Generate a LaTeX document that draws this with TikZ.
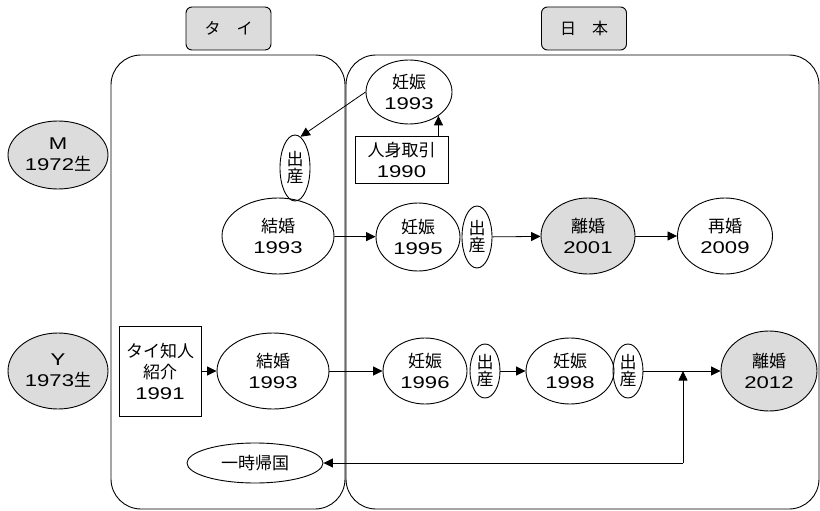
\documentclass[tikz,border=0pt]{standalone}
\usepackage{fontspec}
\setmainfont[FakeStretch=1.3]{Liberation Sans}
\newfontfamily\jp{Noto Sans CJK JP}
\usetikzlibrary{shapes.geometric,arrows.meta}
\definecolor{shade}{HTML}{DCDCDC}
\begin{document}
\begin{tikzpicture}[x=1pt,y=-1pt,
  every node/.style={font=\fontsize{17}{21}\selectfont, align=center, inner sep=0pt},
  ev/.style={draw, ellipse, line width=0.9pt},
  gev/.style={ev, fill=shade},
  bx/.style={draw, rectangle, line width=0.9pt},
  hdr/.style={draw, rectangle, rounded corners=6pt, fill=shade, line width=0.9pt, minimum width=85pt, minimum height=43pt, font=\fontsize{16}{18}\selectfont\jp},
  region/.style={draw, rounded corners=30pt, line width=0.9pt},
  arr/.style={line width=0.8pt, -{Triangle[length=9.5pt,width=9pt]}},
  birth/.style={ev, minimum width=30pt, font=\fontsize{17}{17}\selectfont\jp}
]
\useasboundingbox (0,0) rectangle (820,511);
% regions
\draw[region] (111,55) rectangle (345,509);
\draw[region] (346,55) rectangle (819,509);
% headers
\node[hdr] (hTai) at (228.5,28.5) {タ　イ};
\node[hdr] (hJp) at (584,28.5) {日　本};
% persons
\node[gev, minimum width=100pt, minimum height=68pt] (M) at (58,155) {M\\1972{\jp 生}};
\node[gev, minimum width=100pt, minimum height=76pt] (Y) at (58,371) {Y\\1973{\jp 生}};
% M row
\node[ev, minimum width=86pt, minimum height=64pt] (p93) at (409,92) {{\jp 妊娠}\\1993};
\node[bx, minimum width=93pt, minimum height=47pt] (traf) at (401.5,159.5) {{\jp 人身取引}\\1990};
\node[birth, minimum height=66pt] (b0) at (295,168) {出\\産};
\node[ev, minimum width=112pt, minimum height=76pt] (kM) at (278,236) {{\jp 結婚}\\1993};
\node[ev, minimum width=84pt, minimum height=68pt] (p95) at (418,237) {{\jp 妊娠}\\1995};
\node[birth, minimum height=62pt] (b1) at (477,237) {出\\産};
\node[gev, minimum width=94pt, minimum height=76pt] (d01) at (588,236) {{\jp 離婚}\\2001};
\node[ev, minimum width=95pt, minimum height=76pt] (r09) at (725,236) {{\jp 再婚}\\2009};
% Y row
\node[bx, minimum width=82pt, minimum height=90pt] (intro) at (160,371) {{\jp タイ知人}\\{\jp 紹介}\\1991};
\node[ev, minimum width=112pt, minimum height=76pt] (kY) at (273,371) {{\jp 結婚}\\1993};
\node[ev, minimum width=84pt, minimum height=66pt] (p96) at (425,371) {{\jp 妊娠}\\1996};
\node[birth, minimum height=54pt] (b2) at (485,371) {出\\産};
\node[ev, minimum width=88pt, minimum height=66pt] (p98) at (570,371) {{\jp 妊娠}\\1998};
\node[birth, minimum height=54pt] (b3) at (628,371) {出\\産};
\node[gev, minimum width=96pt, minimum height=80pt] (d12) at (769,371) {{\jp 離婚}\\2012};
\node[ev, minimum width=136pt, minimum height=40pt] (ret) at (255,463) {{\jp 一時帰国}};
\coordinate (J) at (683,463);
\coordinate (Jtop) at (683,371);
% connectors
\draw[arr] (p93.west) -- (b0.80);
\draw[arr] (traf.north -| p93.-39) -- (p93.-39);
\draw[arr] (kM) -- (p95);
\draw[arr] (b1) -- (d01);
\draw[arr] (d01) -- (r09);
\draw[arr] (intro) -- (kY);
\draw[arr] (kY) -- (p96);
\draw[arr] (b2) -- (p98);
\draw[arr] (b3) -- (d12);
\draw[arr] (J) -- (Jtop);
\draw[arr] (J) -- (ret.east);
\end{tikzpicture}
\end{document}
